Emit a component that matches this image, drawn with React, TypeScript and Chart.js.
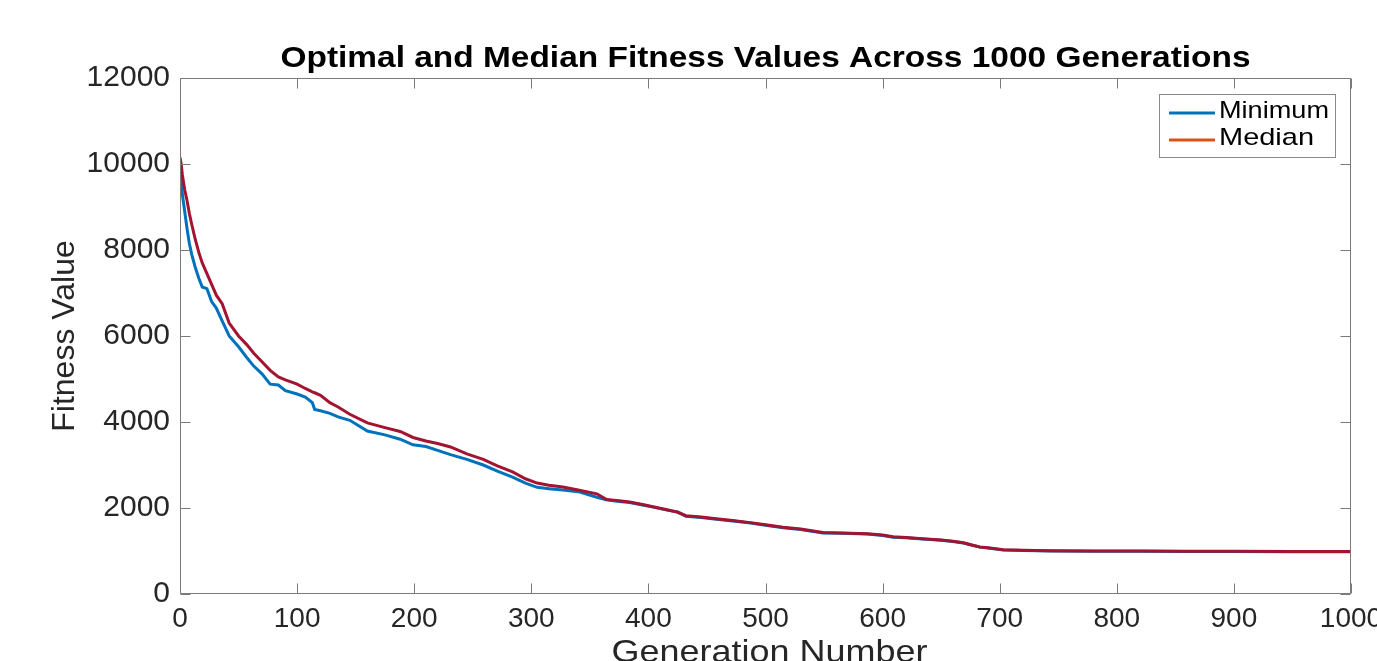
import { useEffect, useRef } from "react";
import { Chart, registerables } from "chart.js";

Chart.register(...registerables);

// ---- data ----
const generations = [
  0, 1, 2, 4, 6, 8, 10, 13, 16, 19, 23, 27, 31, 36, 42, 50, 57, 63, 70, 77, 84, 90,
  100, 107, 113, 115, 120, 128, 135, 145, 160, 175, 188, 199, 210, 220, 231, 245,
  259, 271, 284, 295, 305, 315, 327, 340, 356, 364, 375, 384, 395, 404, 416, 425,
  432, 445, 458, 472, 487, 500, 515, 530, 549, 565, 587, 600, 609, 620, 634, 650,
  660, 669, 676, 683, 690, 703, 720, 743, 780, 820, 860, 900, 950, 1000,
];

const minimumValues = [
  10100, 9700, 9300, 8900, 8500, 8150, 7900, 7600, 7350, 7140, 7100, 6800, 6650,
  6350, 6000, 5750, 5500, 5300, 5120, 4880, 4860, 4730, 4650, 4580, 4450, 4290,
  4260, 4200, 4120, 4040, 3790, 3700, 3600, 3470, 3430, 3340, 3240, 3130, 3000,
  2860, 2720, 2580, 2480, 2450, 2420, 2380, 2250, 2190, 2150, 2130, 2070, 2020,
  1950, 1910, 1810, 1780, 1740, 1700, 1650, 1600, 1540, 1500, 1420, 1410, 1395,
  1360, 1320, 1310, 1280, 1250, 1220, 1186, 1140, 1090, 1070, 1025, 1010, 1000,
  995, 992, 990, 988, 985, 985,
];

const medianValues = [
  10150, 10000, 9750, 9400, 9150, 8850, 8600, 8250, 7950, 7700, 7450, 7200, 6950,
  6750, 6300, 6000, 5800, 5600, 5400, 5200, 5050, 4980, 4880, 4780, 4700, 4680,
  4620, 4450, 4350, 4180, 3980, 3870, 3780, 3640, 3560, 3500, 3420, 3260, 3130,
  2980, 2840, 2680, 2580, 2530, 2490, 2420, 2330, 2200, 2170, 2140, 2080, 2030,
  1960, 1900, 1820, 1790, 1750, 1710, 1660, 1610, 1550, 1510, 1430, 1420, 1400,
  1370, 1330, 1315, 1285, 1255, 1225, 1190, 1140, 1095, 1075, 1030, 1015, 1005,
  1000, 998, 995, 992, 990, 990,
];

const xTickValues = [0, 100, 200, 300, 400, 500, 600, 700, 800, 900, 1000];
const yTickValues = [0, 2000, 4000, 6000, 8000, 10000, 12000];

const chartTitle = "Optimal and Median Fitness Values Across 1000 Generations";
const xAxisTitle = "Generation Number";
const yAxisTitle = "Fitness Value";
const seriesNames = ["Minimum", "Median"];

// ---- styles ----
const FONT = "'Liberation Sans', Arial, Helvetica, sans-serif";
const TEXT_COLOR = "#262626";
const AXIS_COLOR = "#7a7a7a";
const BLUE = "#0072BD";
const CRIMSON = "#A2142F";
const ORANGE = "#D95319";

function fillFitted(ctx: any, text: string, x: number, y: number, width: number) {
  const w = ctx.measureText(text).width;
  ctx.save();
  ctx.translate(x, y);
  ctx.scale(width / w, 1);
  ctx.fillText(text, 0, 0);
  ctx.restore();
}

const decorPlugin = {
  id: "matlabDecor",
  afterDatasetsDraw(chart: any) {
    const { ctx, chartArea: a, scales } = chart;
    const xs = scales.x;
    const ys = scales.y;
    const L = Math.round(a.left) + 0.5;
    const R = Math.round(a.right) - 0.5;
    const T = Math.round(a.top) + 0.5;
    const B = Math.round(a.bottom) - 0.5;
    ctx.save();
    ctx.strokeStyle = AXIS_COLOR;
    ctx.lineWidth = 1;
    ctx.beginPath();
    ctx.rect(L, T, R - L, B - T);
    ctx.stroke();
    const tl = 10;
    ctx.beginPath();
    xTickValues.forEach((v) => {
      const px = Math.round(xs.getPixelForValue(v)) + 0.5;
      ctx.moveTo(px, B);
      ctx.lineTo(px, B - tl);
      ctx.moveTo(px, T);
      ctx.lineTo(px, T + tl);
    });
    yTickValues.forEach((v) => {
      const py = Math.round(ys.getPixelForValue(v)) + 0.5;
      ctx.moveTo(L, py);
      ctx.lineTo(L + tl, py);
      ctx.moveTo(R, py);
      ctx.lineTo(R - tl, py);
    });
    ctx.stroke();

    // title
    ctx.fillStyle = "#000";
    ctx.font = `bold 30px ${FONT}`;
    ctx.textAlign = "center";
    ctx.textBaseline = "alphabetic";
    fillFitted(ctx, chartTitle, (a.left + a.right) / 2, 67, 970);

    // axis titles
    ctx.fillStyle = TEXT_COLOR;
    ctx.font = `32px ${FONT}`;
    fillFitted(ctx, xAxisTitle, (a.left + a.right) / 2 + 4, 662, 316);
    ctx.save();
    ctx.translate(74, (a.top + a.bottom) / 2);
    ctx.rotate(-Math.PI / 2);
    ctx.fillText(yAxisTitle, 0, 0);
    ctx.restore();

    // legend
    ctx.fillStyle = "#fff";
    ctx.fillRect(1159.5, 94.5, 176, 63);
    ctx.strokeStyle = "#8a8a8a";
    ctx.strokeRect(1159.5, 94.5, 176, 63);
    const legendColors = [BLUE, ORANGE];
    const rowsY = [113, 140];
    const legendWidths = [110, 95];
    ctx.lineWidth = 3;
    ctx.font = `24px ${FONT}`;
    ctx.textAlign = "left";
    ctx.textBaseline = "alphabetic";
    seriesNames.forEach((name, i) => {
      ctx.strokeStyle = legendColors[i];
      ctx.beginPath();
      ctx.moveTo(1169, rowsY[i]);
      ctx.lineTo(1215, rowsY[i]);
      ctx.stroke();
      ctx.fillStyle = "#000";
      fillFitted(ctx, name, 1219, rowsY[i] + 5, legendWidths[i]);
    });
    ctx.restore();
  },
};

export default function App() {
  const canvasRef = useRef<HTMLCanvasElement | null>(null);

  useEffect(() => {
    const canvas = canvasRef.current;
    if (!canvas) return;
    const chart = new Chart(canvas, {
      type: "line",
      data: {
        datasets: [
          {
            label: seriesNames[0],
            data: generations.map((g, i) => ({ x: g, y: minimumValues[i] })),
            borderColor: BLUE,
            backgroundColor: BLUE,
            borderWidth: 3,
            pointRadius: 0,
            tension: 0,
            order: 1,
          },
          {
            label: seriesNames[1],
            data: generations.map((g, i) => ({ x: g, y: medianValues[i] })),
            borderColor: CRIMSON,
            backgroundColor: CRIMSON,
            borderWidth: 3,
            pointRadius: 0,
            tension: 0,
            order: 0,
          },
        ],
      },
      options: {
        animation: false,
        responsive: false,
        devicePixelRatio: 1,
        layout: { padding: { left: 0, top: 78, right: 26, bottom: 0 } },
        plugins: {
          legend: { display: false },
          tooltip: { enabled: false },
          title: { display: false },
        },
        scales: {
          x: {
            type: "linear",
            min: 0,
            max: 1000,
            afterBuildTicks: (s: any) => {
              s.ticks = xTickValues.map((v) => ({ value: v }));
            },
            afterFit: (s: any) => {
              s.height = 67;
              s.paddingLeft = 0;
              s.paddingRight = 0;
            },
            ticks: {
              color: TEXT_COLOR,
              font: { family: FONT, size: 28 },
              padding: 8,
              maxRotation: 0,
              autoSkip: false,
              callback: (v: any) => String(v),
            },
            grid: { display: false, drawTicks: false },
            border: { display: false },
          },
          y: {
            type: "linear",
            min: 0,
            max: 12000,
            afterBuildTicks: (s: any) => {
              s.ticks = yTickValues.map((v) => ({ value: v }));
            },
            afterFit: (s: any) => {
              s.width = 180;
              s.paddingTop = 0;
              s.paddingBottom = 0;
            },
            ticks: {
              color: TEXT_COLOR,
              font: { family: FONT, size: 30 },
              padding: 10,
              autoSkip: false,
              callback: (v: any) => String(v),
            },
            grid: { display: false, drawTicks: false },
            border: { display: false },
          },
        },
      } as any,
      plugins: [decorPlugin],
    });
    return () => chart.destroy();
  }, []);

  return (
    <div style={{ position: "absolute", left: 0, top: 0, width: 1377, height: 661, background: "#fff" }}>
      <canvas ref={canvasRef} width={1377} height={661} style={{ display: "block" }} />
    </div>
  );
}
